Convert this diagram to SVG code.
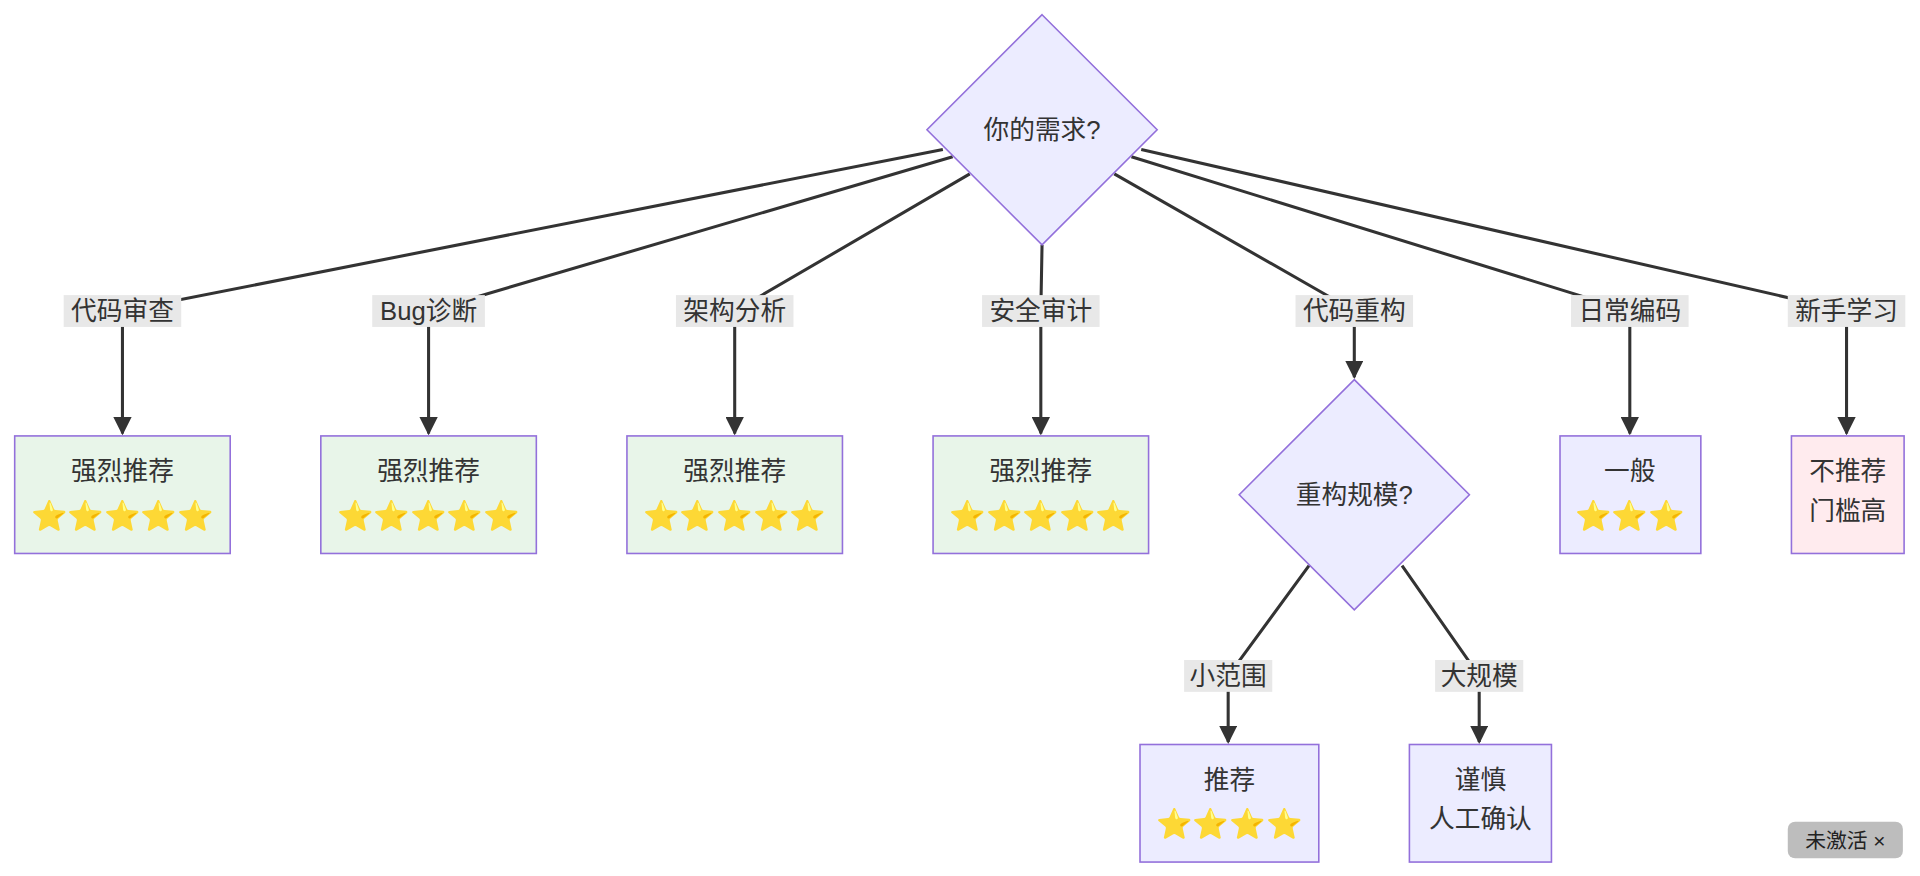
<svg xmlns="http://www.w3.org/2000/svg" width="1920" height="876" viewBox="0 0 1920 876">
<defs>
<marker id="ah" viewBox="0 0 10 10" refX="9" refY="5" markerWidth="6" markerHeight="6" orient="auto"><path d="M0,0 L10,5 L0,10 z" fill="#333"/></marker>
<style>
text{font-family:"Liberation Sans","Noto Sans CJK SC",sans-serif;font-size:21px;fill:#333;text-anchor:middle;dominant-baseline:central}
.d{fill:#ECECFF;stroke:#9370DB;stroke-width:1.3}
.g{fill:#E8F5E9;stroke:#9370DB;stroke-width:1.3}
.p{fill:#ECECFF;stroke:#9370DB;stroke-width:1.3}
.r{fill:#FFEBEE;stroke:#9370DB;stroke-width:1.3}
.e{fill:none;stroke:#333;stroke-width:2.5}
.lb{fill:#e8e8e8}
.st{font-family:"Noto Color Emoji","DejaVu Sans",sans-serif;font-size:24px;fill:#f5b800}
</style>
</defs>
<rect width="1920" height="876" fill="#fff"/>
<g transform="scale(1.2245)">
<g id="connectors">
<path class="e" d="M770,122 L100,254 L100,354" marker-end="url(#ah)"/>
<path class="e" d="M778,128 L350,254 L350,354" marker-end="url(#ah)"/>
<path class="e" d="M792,142 L600,254 L600,354" marker-end="url(#ah)"/>
<path class="e" d="M851,200 L850,254 L850,354" marker-end="url(#ah)"/>
<path class="e" d="M910,142 L1106,254 L1106,308" marker-end="url(#ah)"/>
<path class="e" d="M924,128 L1331,254 L1331,354" marker-end="url(#ah)"/>
<path class="e" d="M932,122 L1508,254 L1508,354" marker-end="url(#ah)"/>
<path class="e" d="M1069,462 L1003,552 L1003,606" marker-end="url(#ah)"/>
<path class="e" d="M1145,462 L1208,552 L1208,606" marker-end="url(#ah)"/>
<g>
<rect class="lb" x="52" y="241" width="96" height="26"/><text x="100" y="254">代码审查</text>
<rect class="lb" x="304" y="241" width="92" height="26"/><text x="350" y="254">Bug诊断</text>
<rect class="lb" x="552" y="241" width="96" height="26"/><text x="600" y="254">架构分析</text>
<rect class="lb" x="802" y="241" width="96" height="26"/><text x="850" y="254">安全审计</text>
<rect class="lb" x="1058" y="241" width="96" height="26"/><text x="1106" y="254">代码重构</text>
<rect class="lb" x="1283" y="241" width="96" height="26"/><text x="1331" y="254">日常编码</text>
<rect class="lb" x="1460" y="241" width="96" height="26"/><text x="1508" y="254">新手学习</text>
<rect class="lb" x="967" y="539" width="72" height="26"/><text x="1003" y="552">小范围</text>
<rect class="lb" x="1172" y="539" width="72" height="26"/><text x="1208" y="552">大规模</text>
</g>
</g>
<g id="n_need"><polygon class="d" points="851,12 945,106 851,200 757,106"/><text x="851" y="106">你的需求?</text></g>
<g id="n_review"><rect class="g" x="12" y="356" width="176" height="96"/><text x="100" y="385">强烈推荐</text><text class="st" x="100" y="421">⭐⭐⭐⭐⭐</text></g>
<g id="n_bug"><rect class="g" x="262" y="356" width="176" height="96"/><text x="350" y="385">强烈推荐</text><text class="st" x="350" y="421">⭐⭐⭐⭐⭐</text></g>
<g id="n_arch"><rect class="g" x="512" y="356" width="176" height="96"/><text x="600" y="385">强烈推荐</text><text class="st" x="600" y="421">⭐⭐⭐⭐⭐</text></g>
<g id="n_sec"><rect class="g" x="762" y="356" width="176" height="96"/><text x="850" y="385">强烈推荐</text><text class="st" x="850" y="421">⭐⭐⭐⭐⭐</text></g>
<g id="n_refactor"><polygon class="d" points="1106,310 1200,404 1106,498 1012,404"/><text x="1106" y="404">重构规模?</text></g>
<g id="n_daily"><rect class="p" x="1274" y="356" width="115" height="96"/><text x="1331" y="385">一般</text><text class="st" x="1331" y="421">⭐⭐⭐</text></g>
<g id="n_new"><rect class="r" x="1463" y="356" width="92" height="96"/><text x="1509" y="385">不推荐</text><text x="1509" y="417">门槛高</text></g>
<g id="n_small"><rect class="p" x="931" y="608" width="146" height="96"/><text x="1004" y="637">推荐</text><text class="st" x="1004" y="673">⭐⭐⭐⭐</text></g>
<g id="n_large"><rect class="p" x="1151" y="608" width="116" height="96"/><text x="1209" y="637">谨慎</text><text x="1209" y="669">人工确认</text></g>
<g id="badge"><rect x="1460" y="671" width="94" height="30" rx="6" fill="#bdbdbd"/><text x="1507" y="686" style="font-size:17px;fill:#222">未激活 ×</text></g>
</g>
</svg>
